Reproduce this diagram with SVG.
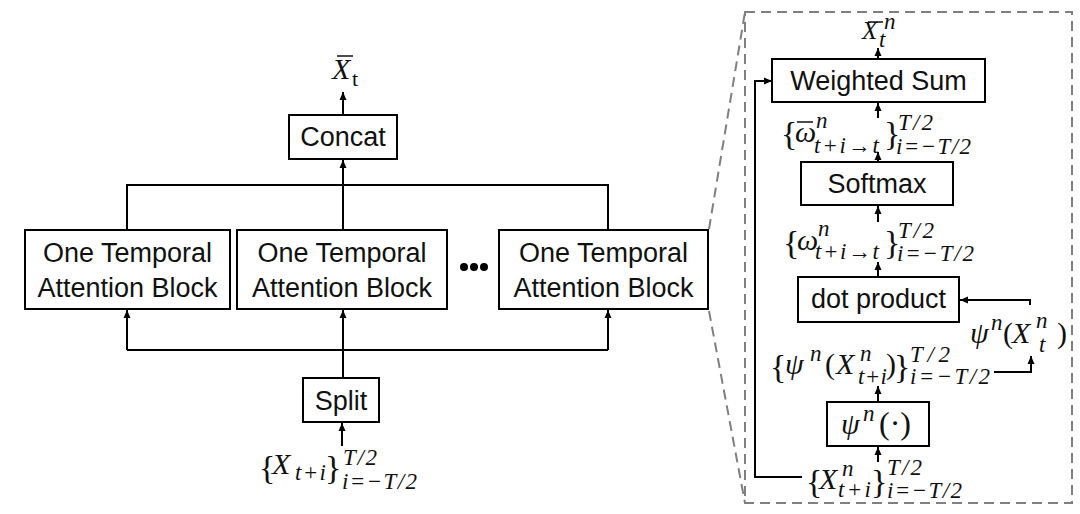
<svg xmlns="http://www.w3.org/2000/svg" width="1080" height="514" viewBox="0 0 1080 514">
<defs>
<marker id="ah" markerUnits="userSpaceOnUse" markerWidth="8" markerHeight="8" refX="8" refY="4" orient="auto">
<path d="M0,0.5 L8,4 L0,7.5 z" fill="#000"/>
</marker>
<style>
.box{fill:#fff;stroke:#000;stroke-width:2}
.lbl{font-family:"Liberation Sans",Arial,sans-serif;font-size:27px;fill:#111;text-anchor:middle}
.mt{font-family:"Liberation Serif","Times New Roman",serif;font-size:30px;fill:#111}
.i{font-style:italic}
.s{font-style:italic;font-size:23px}
.b{font-size:34px;font-style:normal}
.w{fill:none;stroke:#000;stroke-width:2}
.a{fill:none;stroke:#000;stroke-width:2;marker-end:url(#ah)}
.d{fill:none;stroke:#808080;stroke-width:2;stroke-dasharray:10 6}
.bar{stroke:#111;stroke-width:1.5}
</style>
</defs>
<rect width="1080" height="514" fill="#fff"/>

<g id="zoom-frame">
<rect class="d" x="745" y="12" width="327" height="491"/>
<line class="d" x1="709" y1="229" x2="745" y2="12"/>
<line class="d" x1="709" y1="311" x2="745" y2="503"/>
</g>

<g id="connectors">
<polyline class="w" points="127,230 127,185 608,185 608,230"/>
<line class="a" x1="343" y1="230" x2="343" y2="160"/>
<line class="a" x1="343" y1="115" x2="343" y2="92"/>
<line class="w" x1="127" y1="350" x2="608" y2="350"/>
<line class="a" x1="127" y1="350" x2="127" y2="310"/>
<line class="a" x1="343" y1="378" x2="343" y2="310"/>
<line class="a" x1="608" y1="350" x2="608" y2="310"/>
<line class="a" x1="342" y1="446" x2="342" y2="423"/>

<line class="a" x1="878" y1="59" x2="878" y2="48"/>
<line class="a" x1="878" y1="118" x2="878" y2="103"/>
<line class="a" x1="878" y1="162" x2="878" y2="152"/>
<line class="a" x1="878" y1="222" x2="878" y2="206"/>
<line class="a" x1="878" y1="277" x2="878" y2="262"/>
<line class="a" x1="878" y1="402" x2="878" y2="386"/>
<line class="a" x1="878" y1="462" x2="878" y2="447"/>
<polyline class="a" points="1030,305 1030,300 960,300"/>
<polyline class="a" points="994,372 1031,372 1031,356"/>
<polyline class="a" points="802,477 755,477 755,81 772,81"/>
</g>

<g id="concat"><rect class="box" x="289" y="115" width="108" height="44"/><text class="lbl" x="343" y="146">Concat</text></g>
<g id="block1"><rect class="box" x="25" y="230" width="205" height="79"/><text class="lbl" x="127.5" y="262">One Temporal</text><text class="lbl" x="127.5" y="297">Attention Block</text></g>
<g id="block2"><rect class="box" x="237" y="230" width="210" height="79"/><text class="lbl" x="342" y="262">One Temporal</text><text class="lbl" x="342" y="297">Attention Block</text></g>
<g id="dots"><circle cx="464" cy="267" r="4"/><circle cx="474" cy="267" r="4"/><circle cx="484" cy="267" r="4"/></g>
<g id="block3"><rect class="box" x="499" y="230" width="209" height="79"/><text class="lbl" x="603.5" y="262">One Temporal</text><text class="lbl" x="603.5" y="297">Attention Block</text></g>
<g id="split"><rect class="box" x="303" y="378" width="76" height="44"/><text class="lbl" x="341" y="410">Split</text></g>

<g id="out-label">
<line class="bar" x1="337" y1="56" x2="353" y2="56"/>
<text class="mt"><tspan class="i" x="332" y="79">X</tspan><tspan x="352" y="86" font-size="22">t</tspan></text>
</g>
<g id="in-label">
<text class="mt"><tspan class="b" x="259" y="479">{</tspan><tspan class="i" x="272" y="474">X</tspan><tspan class="s" x="295" y="480" textLength="31" lengthAdjust="spacing">t+i</tspan><tspan class="b" x="325" y="479">}</tspan><tspan class="s" x="343" y="465" textLength="34" lengthAdjust="spacing">T/2</tspan><tspan class="s" x="342" y="489" textLength="75" lengthAdjust="spacing">i=−T/2</tspan></text>
</g>

<g id="weighted-sum"><rect class="box" x="772" y="59" width="213" height="43"/><text class="lbl" x="878.5" y="90">Weighted Sum</text></g>
<g id="softmax"><rect class="box" x="801" y="162" width="152" height="43"/><text class="lbl" x="877" y="193">Softmax</text></g>
<g id="dot-product"><rect class="box" x="798" y="277" width="161" height="45"/><text class="lbl" x="878.5" y="308">dot product</text></g>
<g id="psi"><rect class="box" x="827" y="402" width="102" height="44"/>
<text class="mt"><tspan class="i" x="841" y="434">ψ</tspan><tspan class="s" x="863" y="421">n</tspan><tspan x="879" y="434" font-size="32">(·)</tspan></text></g>

<g id="xbar-n">
<line class="bar" x1="868" y1="22" x2="883" y2="22"/>
<text class="mt"><tspan class="i" x="862" y="39" font-size="25">X</tspan><tspan class="s" x="884" y="29" font-size="19">n</tspan><tspan class="s" x="879" y="47" font-size="19">t</tspan></text>
</g>
<g id="omega-bar">
<line class="bar" x1="797" y1="122" x2="813" y2="122"/>
<text class="mt"><tspan class="b" x="781" y="145">{</tspan><tspan class="i" x="795" y="142">ω</tspan><tspan class="s" x="816" y="128">n</tspan><tspan class="s" x="814" y="153" textLength="65" lengthAdjust="spacing">t+i→t</tspan><tspan class="b" x="884" y="145">}</tspan><tspan class="s" x="898" y="130" textLength="35" lengthAdjust="spacing">T/2</tspan><tspan class="s" x="896" y="154" textLength="75" lengthAdjust="spacing">i=−T/2</tspan></text>
</g>
<g id="omega">
<text class="mt"><tspan class="b" x="783" y="254">{</tspan><tspan class="i" x="797" y="250">ω</tspan><tspan class="s" x="818" y="236">n</tspan><tspan class="s" x="815" y="259" textLength="64" lengthAdjust="spacing">t+i→t</tspan><tspan class="b" x="884" y="254">}</tspan><tspan class="s" x="898" y="238" textLength="36" lengthAdjust="spacing">T/2</tspan><tspan class="s" x="897" y="261" textLength="77" lengthAdjust="spacing">i=−T/2</tspan></text>
</g>
<g id="psi-set">
<text class="mt"><tspan class="b" x="770" y="378">{</tspan><tspan class="i" x="785" y="374">ψ</tspan><tspan class="s" x="810" y="361">n</tspan><tspan x="825" y="374">(</tspan><tspan class="i" x="836" y="374">X</tspan><tspan class="s" x="860" y="361">n</tspan><tspan class="s" x="858" y="384" textLength="29" lengthAdjust="spacing">t+i</tspan><tspan x="886" y="374">)</tspan><tspan class="b" x="894" y="378">}</tspan><tspan class="s" x="910" y="362" textLength="40" lengthAdjust="spacing">T/2</tspan><tspan class="s" x="910" y="384" textLength="80" lengthAdjust="spacing">i=−T/2</tspan></text>
</g>
<g id="psi-xt">
<text class="mt"><tspan class="i" x="970" y="343">ψ</tspan><tspan class="s" x="991" y="330">n</tspan><tspan x="1003" y="343">(</tspan><tspan class="i" x="1012" y="343">X</tspan><tspan class="s" x="1036" y="328">n</tspan><tspan class="s" x="1039" y="352" font-size="21">t</tspan><tspan x="1057" y="343">)</tspan></text>
</g>
<g id="x-set">
<text class="mt"><tspan class="b" x="806" y="493">{</tspan><tspan class="i" x="819" y="489">X</tspan><tspan class="s" x="842" y="476">n</tspan><tspan class="s" x="838" y="497" textLength="33" lengthAdjust="spacing">t+i</tspan><tspan class="b" x="871" y="493">}</tspan><tspan class="s" x="887" y="475" textLength="35" lengthAdjust="spacing">T/2</tspan><tspan class="s" x="887" y="498" textLength="75" lengthAdjust="spacing">i=−T/2</tspan></text>
</g>
</svg>
